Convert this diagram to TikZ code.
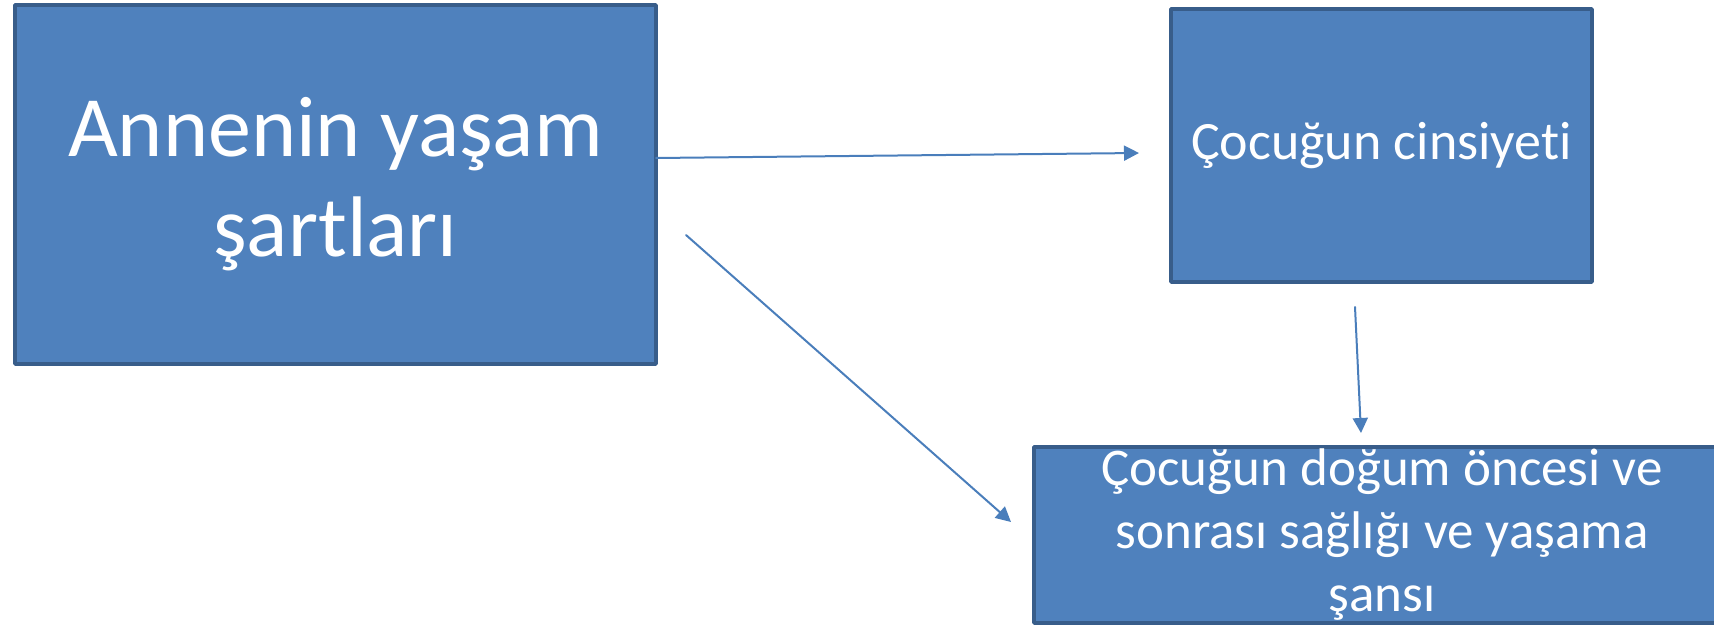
\documentclass[tikz,border=0pt]{standalone}
\usepackage{fontspec}
\setmainfont{Carlito}[Ligatures=NoCommon]
\usetikzlibrary{arrows.meta}
\definecolor{kutudolgu}{HTML}{4F81BD}
\definecolor{kutucizgi}{HTML}{385D8A}
\definecolor{okrenk}{HTML}{4A7EBB}
\tikzset{kutu/.style={draw=kutucizgi,fill=kutudolgu,line width=3.5pt,inner sep=0pt,text=white,align=center}}

\begin{document}
\begin{tikzpicture}[line cap=round,line join=round,>={Triangle[length=15pt,width=15pt]},x=1pt,y=-1pt]
\useasboundingbox (0,0) rectangle (1714,626);
\clip (0,0) rectangle (1714,626);
\node[kutu,minimum width=641,minimum height=359,font=\fontsize{86}{100}\selectfont] (anne) at (335.5,184.5) {Annenin yaşam\\şartları};
\node[kutu,minimum width=421,minimum height=273,font=\fontsize{54}{60}\selectfont] (cinsiyet) at (1381.5,145.5) {Çocuğun cinsiyeti};
\node[kutu,minimum width=696,minimum height=176,font=\fontsize{53}{63}\selectfont] (saglik) at (1382,535) {Çocuğun doğum öncesi ve\\sonrası sağlığı ve yaşama\\şansı};
\coordinate (a1) at (656,158);
\coordinate (b1) at (1139,153);
\coordinate (a2) at (686,235);
\coordinate (c2) at (1011,522);
\coordinate (b3) at (1355,307);
\coordinate (c3) at (1361,433);
\draw[->,okrenk,line width=2pt] (a1)--(b1);
\draw[->,okrenk,line width=2pt] (a2)--(c2);
\draw[->,okrenk,line width=2pt] (b3)--(c3);
\end{tikzpicture}
\end{document}
